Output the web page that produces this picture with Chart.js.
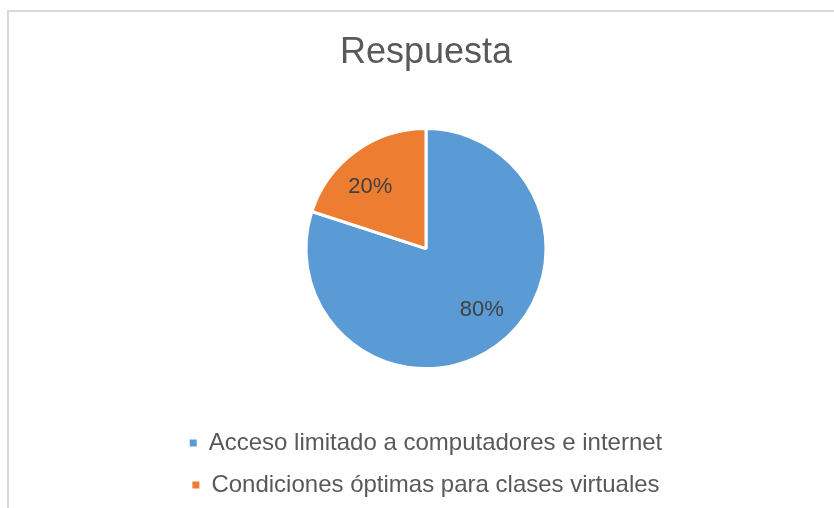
<!DOCTYPE html>
<html>
<head>
<meta charset="utf-8">
<script src="https://cdn.jsdelivr.net/npm/chart.js@4"></script>
<style>
  html, body { margin: 0; padding: 0; background: #fff; overflow: hidden; }
  #page { position: relative; width: 834px; height: 508px; overflow: hidden; }
  #frame {
    position: absolute; left: 7px; top: 10px;
    width: 900px; height: 560px;
    border-left: 2px solid #d9d9d9; border-top: 2px solid #d9d9d9;
  }
  #chartBox { position: absolute; left: 0; top: 0; width: 834px; height: 510px; }
</style>
</head>
<body>
<div id="page">
  <div id="frame">
    <div id="chartBox"><canvas id="chartContainer"></canvas></div>
  </div>
</div>
<script>
const titleText = "Respuesta";
const categories = [
    "Acceso limitado a computadores e internet",
    "Condiciones óptimas para clases virtuales",
];
const shares = [80, 20];
const sliceColors = ["#5B9BD5", "#ED7D31"];

const fontFamily = "'Liberation Sans', Arial, sans-serif";

// labels in the slices, like excel does it
const sliceLabels = {
    id: "sliceLabels",
    afterDatasetsDraw(chart) {
        const ctx = chart.ctx;
        const meta = chart.getDatasetMeta(0);
        ctx.save();
        ctx.font = "22px " + fontFamily;
        ctx.fillStyle = "#404040";
        ctx.textAlign = "center";
        ctx.textBaseline = "middle";
        meta.data.forEach((arc, i) => {
            const p = arc.getProps(["x", "y", "startAngle", "endAngle", "outerRadius"], true);
            const mid = (p.startAngle + p.endAngle) / 2 - 0.11;
            const r = p.outerRadius * 0.69;
            ctx.fillText(shares[i] + "%", p.x + Math.cos(mid) * r, p.y + Math.sin(mid) * r);
        });
        ctx.restore();
    },
};

const ctx = document.getElementById("chartContainer");
const chart = new Chart(ctx, {
    type: "pie",
    data: {
        labels: categories,
        datasets: [
            {
                data: shares,
                backgroundColor: sliceColors,
                borderColor: "#ffffff",
                borderWidth: 3,
                radius: 120,
            },
        ],
    },
    options: {
        responsive: true,
        maintainAspectRatio: false,
        animation: false,
        layout: {
            padding: { top: 0, bottom: 15, left: 0, right: 0 },
        },
        plugins: {
            title: {
                display: true,
                text: titleText,
                color: "#595959",
                font: { family: fontFamily, size: 36, weight: "normal" },
                padding: { top: 19, bottom: 10 },
            },
            legend: {
                position: "bottom",
                labels: {
                    color: "#595959",
                    font: { family: fontFamily, size: 24 },
                    boxWidth: 7,
                    boxHeight: 7,
                    padding: 18,
                    generateLabels(chart) {
                        return categories.map((name, i) => ({
                            text: name,
                            fillStyle: sliceColors[i],
                            strokeStyle: sliceColors[i],
                            fontColor: "#595959",
                            lineWidth: 0,
                            hidden: false,
                            index: i,
                        }));
                    },
                },
            },
            tooltip: { enabled: false },
        },
    },
    plugins: [sliceLabels],
});
</script>
</body>
</html>
